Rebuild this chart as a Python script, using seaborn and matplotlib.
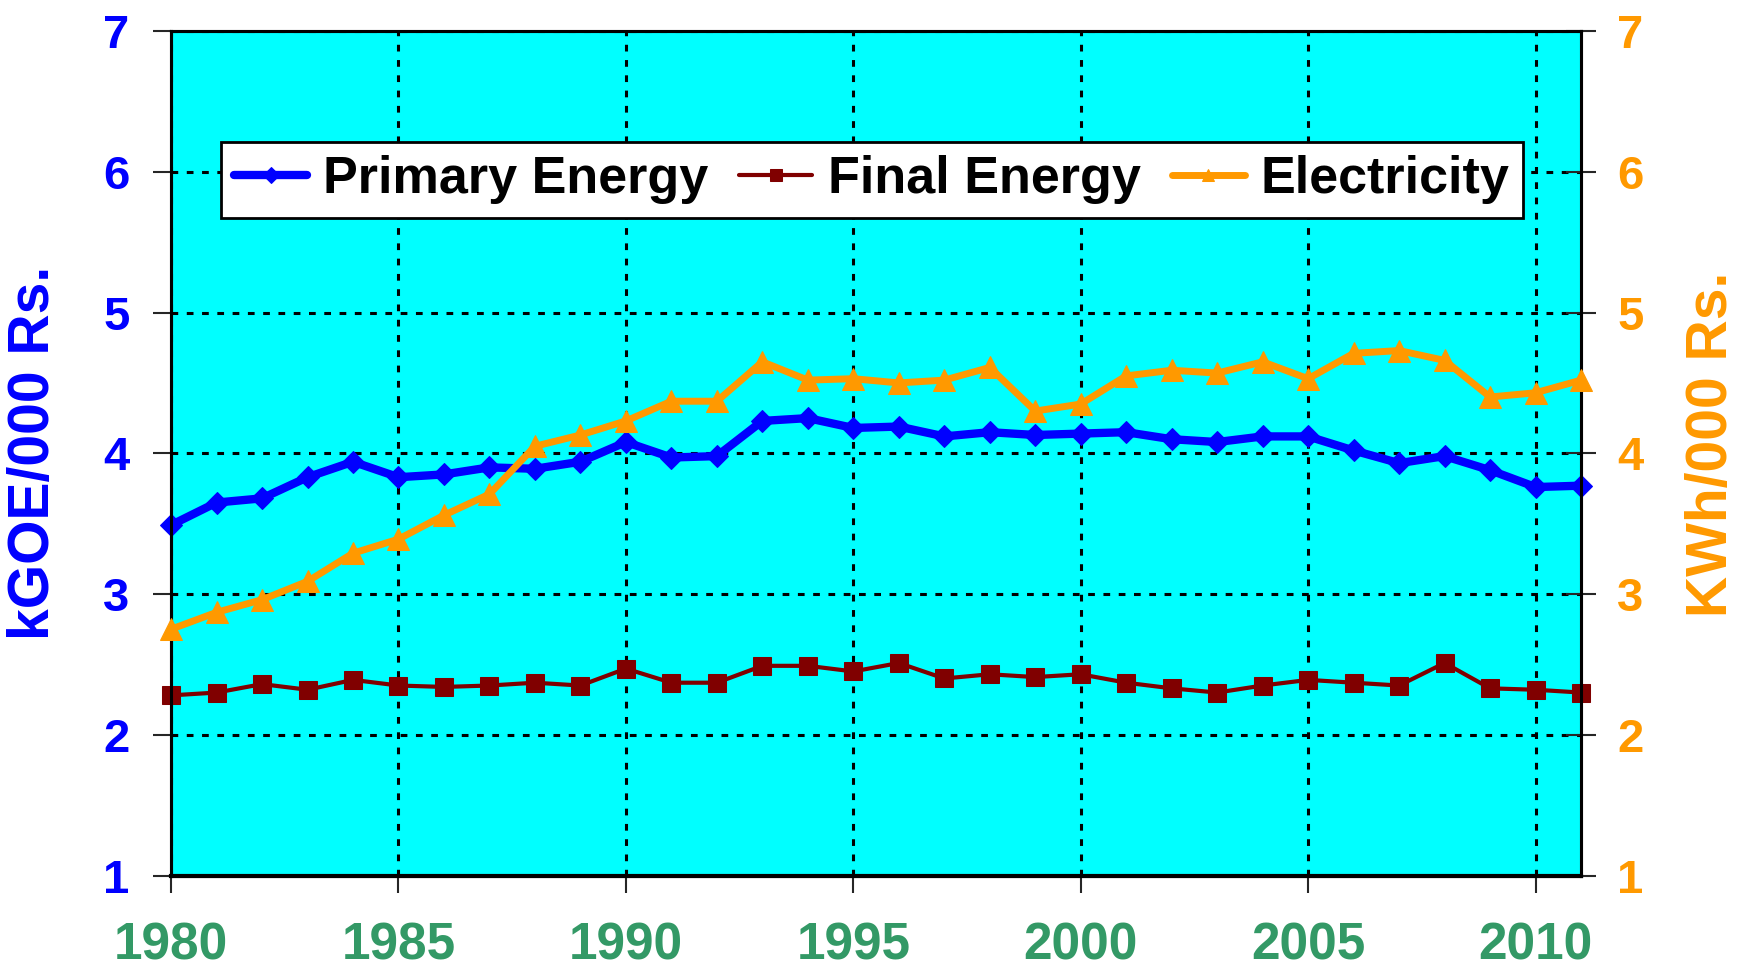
import numpy as np
import pandas as pd
import matplotlib
matplotlib.use('Agg')
import matplotlib.pyplot as plt
import seaborn as sns

# Energy / electricity intensity per 000 Rs., 1980-2011

years = list(range(1980, 2012))

primary_energy = [3.49, 3.65, 3.68, 3.83, 3.94, 3.83, 3.85, 3.90, 3.89, 3.94,
                  4.08, 3.97, 3.98, 4.23, 4.25, 4.18, 4.19, 4.12, 4.15, 4.13,
                  4.14, 4.15, 4.10, 4.08, 4.12, 4.12, 4.02, 3.93, 3.98, 3.88,
                  3.76, 3.77]

final_energy = [2.28, 2.30, 2.36, 2.32, 2.39, 2.35, 2.34, 2.35, 2.37, 2.35,
                2.47, 2.37, 2.37, 2.49, 2.49, 2.45, 2.51, 2.40, 2.43, 2.41,
                2.43, 2.37, 2.33, 2.30, 2.35, 2.39, 2.37, 2.35, 2.51, 2.33,
                2.32, 2.30]

electricity = [2.75, 2.87, 2.96, 3.09, 3.29, 3.39, 3.56, 3.71, 4.05, 4.13,
               4.23, 4.37, 4.37, 4.65, 4.52, 4.53, 4.50, 4.52, 4.61, 4.30,
               4.35, 4.55, 4.59, 4.57, 4.65, 4.53, 4.71, 4.73, 4.66, 4.40,
               4.43, 4.52]

x_ticks = [1980, 1985, 1990, 1995, 2000, 2005, 2010]
y_ticks = [1, 2, 3, 4, 5, 6, 7]

sns.set_style('ticks')
plt.rcParams['font.family'] = ['Liberation Sans', 'DejaVu Sans']
plt.rcParams['font.weight'] = 'bold'

fig = plt.figure(figsize=(17.42, 9.74), dpi=100)
ax = fig.add_axes([0.0982, 0.1011, 0.8094, 0.867])
ax.set_facecolor('#00FFFF')
ax2 = ax.twinx()

sns.lineplot(x=years, y=primary_energy, ax=ax, color='#0000FF', linewidth=6,
             marker='D', markersize=11, markeredgecolor='#0000FF',
             clip_on=False, label='Primary Energy', legend=False, zorder=4)
sns.lineplot(x=years, y=final_energy, ax=ax, color='#800000', linewidth=3,
             marker='s', markersize=12.5, markeredgecolor='#800000',
             clip_on=False, label='Final Energy', legend=False, zorder=4)
sns.lineplot(x=years, y=electricity, ax=ax2, color='#FF9900', linewidth=5,
             marker='^', markersize=16, markeredgecolor='#FF9900',
             clip_on=False, label='Electricity', legend=False, zorder=4)

for a in (ax, ax2):
    a.set_xlim(1980, 2011)
    a.set_ylim(1, 7)
    a.set_yticks(y_ticks)
    for s in a.spines.values():
        s.set_linewidth(2.2)
        s.set_color('black')
        s.set_visible(True)
ax.spines['bottom'].set_linewidth(3)

ax.set_xticks(x_ticks)
ax.grid(True, color='black', linestyle=(0, (2.2, 2.8)), linewidth=2.2)
ax.set_axisbelow(True)

ax.tick_params(axis='x', direction='out', length=12, width=1.5, pad=21,
               labelsize=37, labelcolor='#339966')
ax.tick_params(axis='y', direction='out', length=13, width=1.5, pad=17,
               labelsize=34, labelcolor='#0000FF')
ax2.tick_params(axis='y', direction='inout', length=22, width=1.5, pad=15,
                labelsize=34, labelcolor='#FF9900')

ax.set_ylabel('kGOE/000 Rs.', fontsize=41, fontweight='bold', color='#0000FF')
ax.yaxis.set_label_coords(-0.078, 0.5)
ax2.set_ylabel('KWh/000 Rs.', fontsize=41, fontweight='bold', color='#FF9900',
               rotation=90)
ax2.yaxis.set_label_coords(1.074, 0.51)

handles = ax.get_lines() + ax2.get_lines()
labels = [h.get_label() for h in handles]
leg = ax2.legend(handles, labels, loc='upper center', bbox_to_anchor=(0.497, 0.869),
                 borderaxespad=0, ncol=3, fontsize=37.5, frameon=True,
                 fancybox=False, framealpha=1, edgecolor='black',
                 handlelength=1.4, handletextpad=0.3, columnspacing=0.6,
                 borderpad=0.26, labelcolor='black')
leg.get_frame().set_linewidth(2)
for t in leg.get_texts():
    t.set_fontweight('bold')
for h in leg.legend_handles:
    h.set_markersize(8)

fig.savefig('out.png', dpi=100)
